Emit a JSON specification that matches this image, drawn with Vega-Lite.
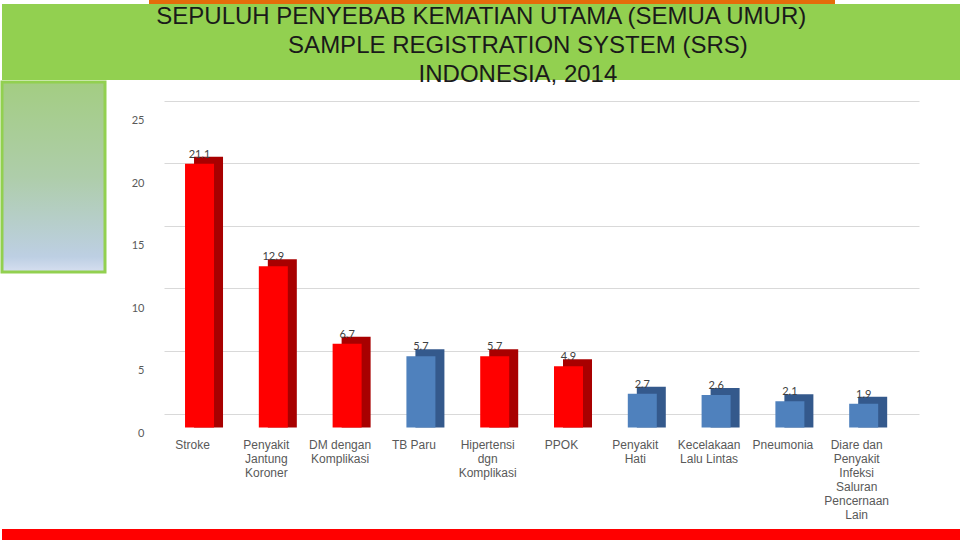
{
  "$schema": "https://vega.github.io/schema/vega-lite/v6.json",
  "padding": 0,
  "background": "white",
  "spacing": 0,
  "config": {"view": {"stroke": null}, "font": "Liberation Sans"},
  "title": {
    "text": [
      "SEPULUH PENYEBAB KEMATIAN UTAMA (SEMUA UMUR)",
      "\u200b\u00a0\u00a0\u00a0\u00a0\u00a0\u00a0\u00a0\u00a0\u00a0\u00a0\u00a0SAMPLE REGISTRATION SYSTEM (SRS)",
      "\u200b\u00a0\u00a0\u00a0\u00a0\u00a0\u00a0\u00a0\u00a0\u00a0\u00a0\u00a0INDONESIA, 2014"
    ],
    "anchor": "middle",
    "orient": "top",
    "offset": -87,
    "baseline": "top",
    "font": "Liberation Sans",
    "fontSize": 24,
    "fontWeight": "normal",
    "color": "#1a1a1a",
    "lineHeight": 29
  },
  "vconcat": [
    {
      "hconcat": [
        {"width": 147, "height": 4, "data": {"values": []}, "mark": "rule", "encoding": {}},
        {"width": 686, "height": 4, "view": {"fill": "#e46c0a", "stroke": null}, "data": {"values": []}, "mark": "rule", "encoding": {}},
        {"width": 127, "height": 4, "data": {"values": []}, "mark": "rule", "encoding": {}}
      ],
      "spacing": 0
    },
    {
      "width": 960,
      "height": 76,
      "view": {"fill": "#92d050", "stroke": null},
      "data": {"values": []},
      "mark": "rule",
      "encoding": {}
    },
    {
      "hconcat": [
        {
          "width": 103,
          "height": 190,
          "view": {
            "fill": {
              "gradient": "linear",
              "x1": 0, "y1": 0, "x2": 0, "y2": 1,
              "stops": [
                {"offset": 0, "color": "#a3cd82"},
                {"offset": 0.5, "color": "#aecdaa"},
                {"offset": 0.92, "color": "#bdcfe3"},
                {"offset": 1, "color": "#d6dff0"}
              ]
            },
            "stroke": "#92d050",
            "strokeWidth": 3
          },
          "data": {"values": []},
          "mark": "rule",
          "encoding": {}
        },
        {
          "width": 755,
          "height": 447,
          "data": {
            "values": [
              {"cause": "Stroke", "pct": 21.1, "jenis": "PTM"},
              {"cause": "Penyakit\nJantung\nKoroner", "pct": 12.9, "jenis": "PTM"},
              {"cause": "DM dengan\nKomplikasi", "pct": 6.7, "jenis": "PTM"},
              {"cause": "TB Paru", "pct": 5.7, "jenis": "Lainnya"},
              {"cause": "Hipertensi\ndgn\nKomplikasi", "pct": 5.7, "jenis": "PTM"},
              {"cause": "PPOK", "pct": 4.9, "jenis": "PTM"},
              {"cause": "Penyakit\nHati", "pct": 2.7, "jenis": "Lainnya"},
              {"cause": "Kecelakaan\nLalu Lintas", "pct": 2.6, "jenis": "Lainnya"},
              {"cause": "Pneumonia", "pct": 2.1, "jenis": "Lainnya"},
              {"cause": "Diare dan\nPenyakit\nInfeksi\nSaluran\nPencernaan\nLain", "pct": 1.9, "jenis": "Lainnya"}
            ]
          },
          "encoding": {
            "x": {
              "field": "cause",
              "type": "nominal",
              "sort": null,
              "scale": {"paddingInner": 0.607, "paddingOuter": 0.419, "align": 0.34},
              "axis": {
                "title": null,
                "orient": "bottom",
                "offset": -101.5,
                "domain": false,
                "ticks": false,
                "grid": false,
                "labelAngle": 0,
                "labelPadding": 12,
                "labelFont": "Liberation Sans",
                "labelFontSize": 12,
                "labelColor": "#595959",
                "labelLineHeight": 14,
                "labelBaseline": "top",
                "labelExpr": "split(datum.label, '\\n')",
                "labelOffset": -7,
                "labelOverlap": false,
                "labelLimit": 0
              }
            }
          },
          "layer": [
            {
              "mark": {"type": "bar", "xOffset": 9, "x2Offset": 9, "yOffset": -7, "y2Offset": 0},
              "encoding": {
                "y": {"field": "pct", "type": "quantitative", "scale": {"domain": [-8.12, 27.64], "nice": false, "zero": false}, "axis": null},
                "y2": {"datum": 0},
                "color": {"field": "jenis", "type": "nominal", "scale": {"domain": ["PTM", "Lainnya"], "range": ["#a80000", "#34598c"]}, "legend": null}
              }
            },
            {
              "mark": {"type": "bar"},
              "encoding": {
                "y": {"field": "pct", "type": "quantitative", "scale": {"domain": [-8.12, 27.64], "nice": false, "zero": false}, "axis": null},
                "y2": {"datum": 0},
                "color": {"field": "jenis", "type": "nominal", "scale": {"domain": ["PTM", "Lainnya"], "range": ["#ff0000", "#4f81bd"]}, "legend": null}
              }
            },
            {
              "mark": {"type": "text", "dy": 8, "baseline": "alphabetic", "font": "Lato", "fontSize": 11, "color": "#404040"},
              "encoding": {
                "y": {
                  "field": "pct",
                  "type": "quantitative",
                  "scale": {"domain": [-9.24, 26.52], "nice": false, "zero": false},
                  "axis": {
                    "orient": "left",
                    "title": null,
                    "values": [0, 5, 10, 15, 20, 25],
                    "grid": true,
                    "gridColor": "#d9d9d9",
                    "gridWidth": 1,
                    "domain": false,
                    "ticks": false,
                    "labelOffset": 19.5,
                    "labelPadding": 20,
                    "labelFont": "Lato",
                    "labelFontSize": 11,
                    "labelColor": "#595959"
                  }
                },
                "text": {"field": "pct", "type": "quantitative", "format": ".1f"}
              }
            }
          ],
          "resolve": {"scale": {"y": "independent", "color": "independent"}}
        }
      ],
      "spacing": 24
    },
    {
      "width": 960,
      "height": 11,
      "view": {"fill": "#ff0000", "stroke": null},
      "data": {"values": []},
      "mark": "rule",
      "encoding": {}
    }
  ]
}
